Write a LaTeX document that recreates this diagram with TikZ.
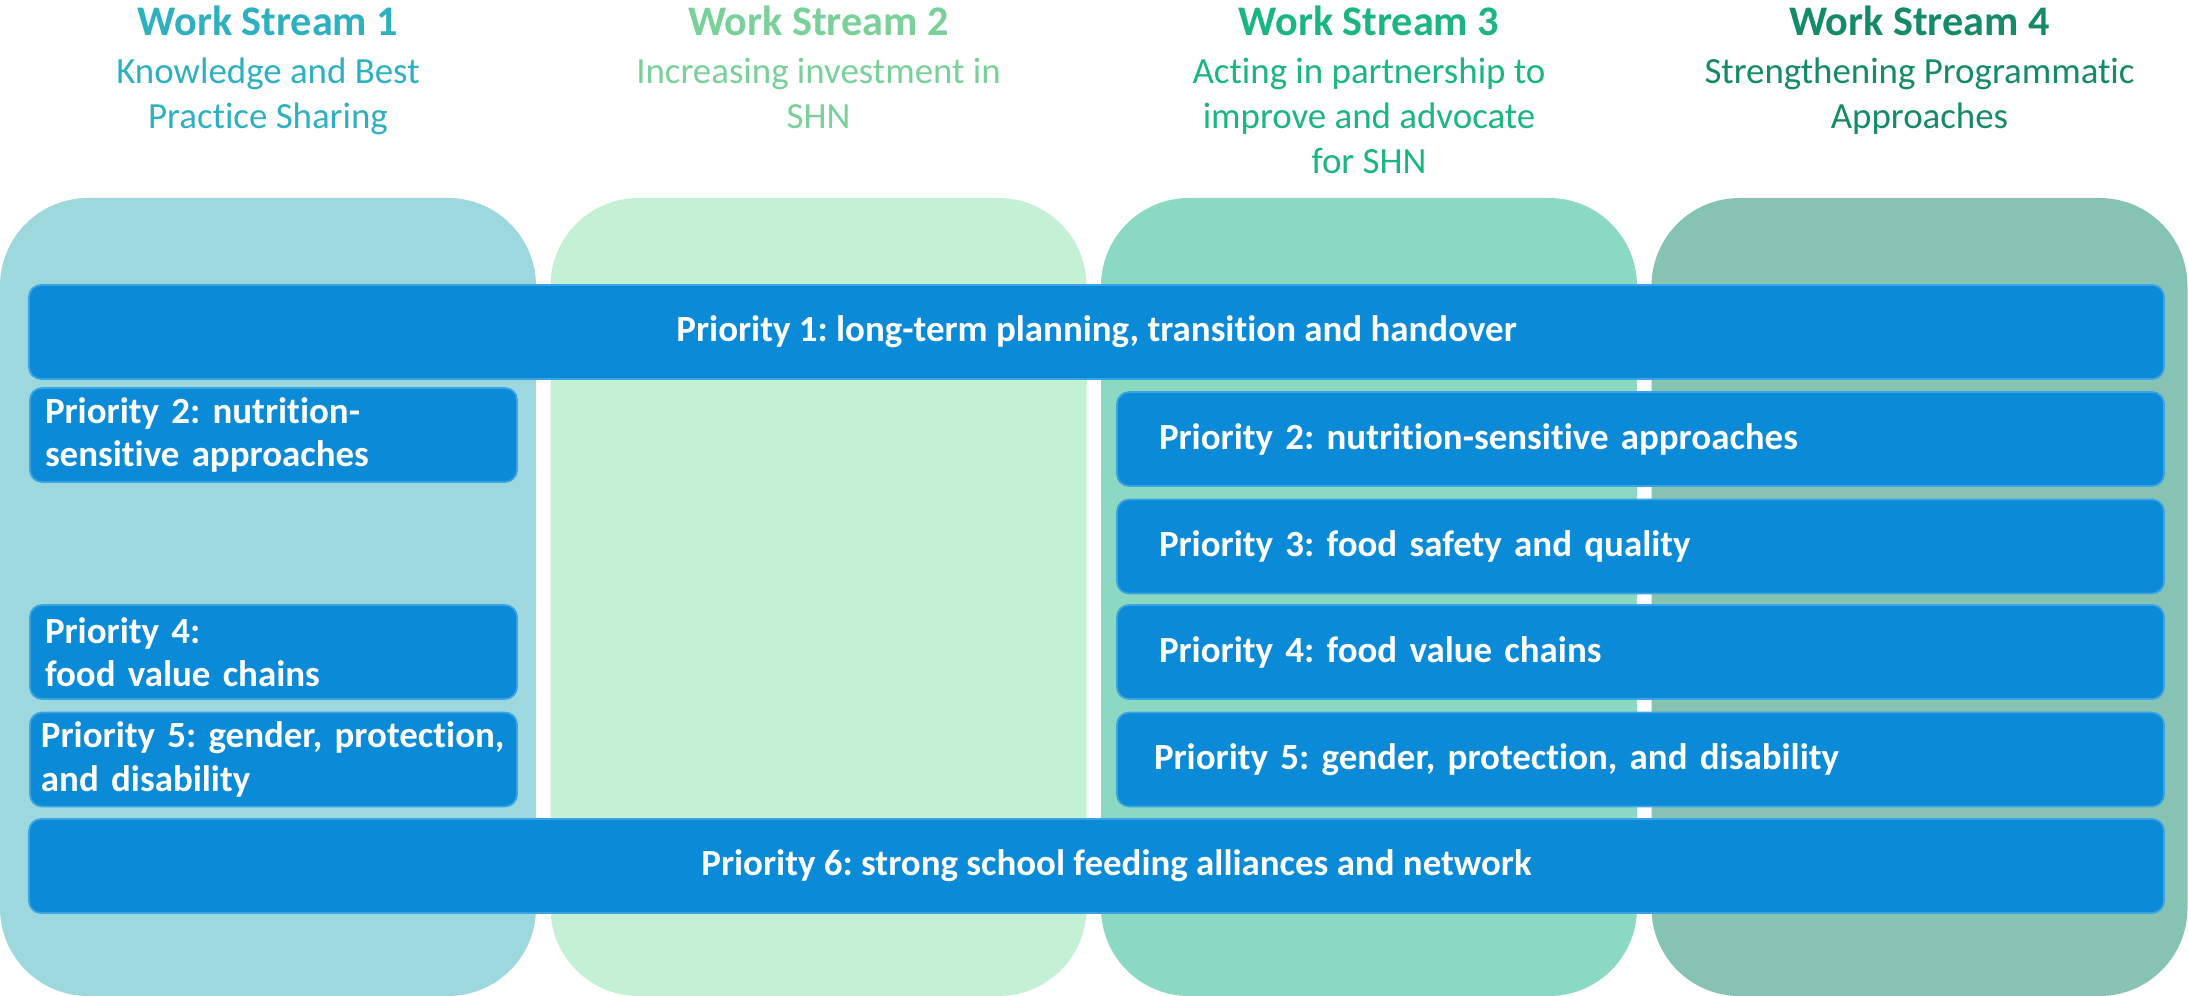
\documentclass[tikz,border=0pt]{standalone}
\usepackage{fontspec}
\setmainfont{Carlito}[Ligatures=NoCommon]
\frenchspacing
\usetikzlibrary{positioning}
\definecolor{colone}{HTML}{9DD8DF}
\definecolor{coltwo}{HTML}{C4F1D5}
\definecolor{colthree}{HTML}{8BD9C3}
\definecolor{colfour}{HTML}{87C3B2}
\definecolor{hdone}{HTML}{2DB0BF}
\definecolor{hdtwo}{HTML}{79D199}
\definecolor{hdthree}{HTML}{1BB584}
\definecolor{hdfour}{HTML}{148A66}
\definecolor{prioblue}{HTML}{0B8BD7}
\definecolor{prioedge}{HTML}{3AA3E2}
\tikzset{
    wstitle/.style={inner sep=0pt,font=\bfseries\fontsize{12}{14}\selectfont},
    wssub/.style={inner sep=0pt,align=center,font=\fontsize{10.5}{12.8}\selectfont},
    prio/.style={draw=prioedge,line width=.5pt,fill=prioblue,rounded corners=.12cm,text=white,inner sep=0pt,minimum height=.94cm,font=\bfseries\fontsize{10.5}{12.4}\selectfont},
    priowide/.style={prio,minimum width=21.35cm,align=center},
    prioleft/.style={prio,minimum width=4.87cm,text width=4.57cm,align=left},
    prioright/.style={prio,minimum width=10.47cm,text width=9.63cm,align=left}
}

\begin{document}
\begin{tikzpicture}
        \useasboundingbox (0,0) rectangle (21.88,-9.96);
        %---
        \foreach \c/\x in {colone/0,coltwo/5.505,colthree/11.01,colfour/16.515} {
            \fill[color=\c,rounded corners=.88cm] (\x,-1.98) rectangle ++(5.36,-7.98);
        }

        %---
        \node[wstitle,text=hdone] (ws-1) at (2.68,-.21) {Work Stream 1};
        \node[wssub,text=hdone,below=.21cm of ws-1] (ws-1-sub) {Knowledge and Best\\Practice Sharing};
        \node[wstitle,text=hdtwo] (ws-2) at (8.185,-.21) {Work Stream 2};
        \node[wssub,text=hdtwo,below=.21cm of ws-2] (ws-2-sub) {Increasing investment in\\SHN};
        \node[wstitle,text=hdthree] (ws-3) at (13.69,-.21) {Work Stream 3};
        \node[wssub,text=hdthree,below=.21cm of ws-3] (ws-3-sub) {Acting in partnership to\\improve and advocate\\for SHN};
        \node[wstitle,text=hdfour] (ws-4) at (19.195,-.21) {Work Stream 4};
        \node[wssub,text=hdfour,below=.21cm of ws-4] (ws-4-sub) {Strengthening Programmatic\\Approaches};

        %---
        \node[priowide] (p-1) at (10.965,-3.32) {Priority 1: long-term planning, transition and handover};
        \node[prioleft] (p-2-l) at (2.735,-4.35) {Priority 2: nutrition-\\sensitive approaches};
        \node[prioleft] (p-4-l) at (2.735,-6.52) {Priority 4:\\food value chains};
        \node[prioleft,text width=4.65cm] (p-5-l) at (2.735,-7.595) {\mbox{Priority 5: gender, protection,}\\and disability};
        \node[prioright] (p-2-r) at (16.405,-4.39) {Priority 2: nutrition-sensitive approaches};
        \node[prioright] (p-3-r) at (16.405,-5.465) {Priority 3: food safety and quality};
        \node[prioright] (p-4-r) at (16.405,-6.52) {Priority 4: food value chains};
        \node[prioright,text width=9.73cm] (p-5-r) at (16.405,-7.595) {Priority 5: gender, protection, and disability};
        \node[priowide] (p-6) at (10.965,-8.66) {\hspace*{.4cm}Priority 6: strong school feeding alliances and network};
    \end{tikzpicture}
\end{document}
